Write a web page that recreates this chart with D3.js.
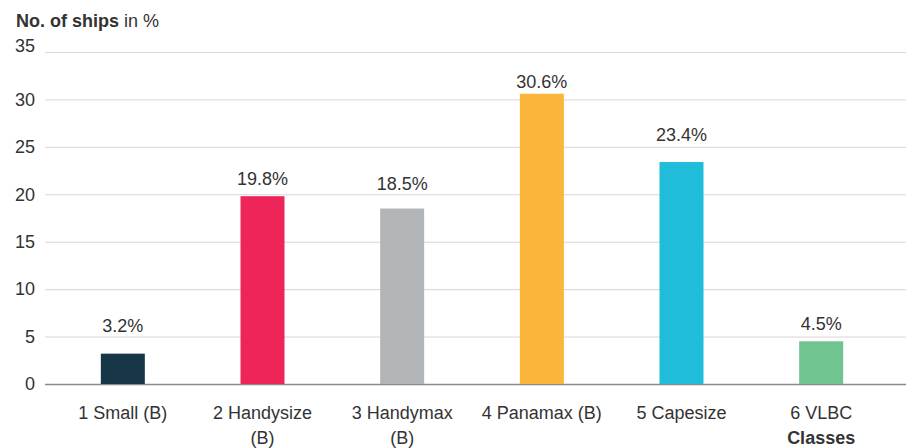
<!DOCTYPE html>
<html>
<head>
<meta charset="utf-8">
<script src="https://cdn.jsdelivr.net/npm/d3@7"></script>
<style>
  body { margin: 0; background: #fff; }
  text { font-family: "Liberation Sans", Arial, Helvetica, sans-serif; fill: #333; }
</style>
</head>
<body>
<svg id="chart" width="906" height="448"></svg>
<script>
// categories (lines of each label) and values
var categories = [["1 Small (B)"], ["2 Handysize", "(B)"], ["3 Handymax", "(B)"], ["4 Panamax (B)"], ["5 Capesize"], ["6 VLBC"]];
var values = [3.2, 19.8, 18.5, 30.6, 23.4, 4.5];
var colors = ["#173648", "#ee2558", "#b1b5b7", "#fbb53b", "#1fbdda", "#6fc490"];
var yTicks = [0, 5, 10, 15, 20, 25, 30, 35];

var svg = d3.select("#chart");
var width = 906, height = 448;
var margin = { top: 52, right: 0, bottom: 64, left: 45 };
// gap between bar top and its value label (px), as placed in the original
var labelGap = [22, 11, 19, 6, 21, 11];

var x = d3.scaleBand()
    .domain(d3.range(categories.length))
    .range([53, 891])
    .paddingInner(0.685)
    .paddingOuter(0.3425);

var y = d3.scaleLinear()
    .domain([0, 35])
    .range([height - margin.bottom, margin.top]);

// gridlines
svg.append("g")
    .selectAll("line")
    .data(yTicks)
    .join("line")
    .attr("x1", margin.left)
    .attr("x2", width)
    .attr("y1", d => y(d) + 0.5)
    .attr("y2", d => y(d) + 0.5)
    .attr("stroke", d => d === 0 ? "#8a8a8a" : "#d6d6d6")
    .attr("stroke-width", d => d === 0 ? 1.5 : 1);

// y tick labels
svg.append("g")
    .selectAll("text")
    .data(yTicks)
    .join("text")
    .attr("x", 35)
    .attr("y", d => y(d) + (d === 35 ? -6 : 0))
    .attr("dy", "0.35em")
    .attr("text-anchor", "end")
    .style("font-size", "18px")
    .text(d => d);

// bars
svg.append("g")
    .selectAll("rect")
    .data(values)
    .join("rect")
    .attr("x", (d, i) => x(i))
    .attr("width", x.bandwidth())
    .attr("y", d => y(d))
    .attr("height", d => y(0) - y(d))
    .attr("fill", (d, i) => colors[i]);

// value labels
svg.append("g")
    .selectAll("text")
    .data(values)
    .join("text")
    .attr("x", (d, i) => x(i) + x.bandwidth() / 2)
    .attr("y", (d, i) => y(d) - labelGap[i])
    .attr("text-anchor", "middle")
    .style("font-size", "18px")
    .text(d => d.toFixed(1) + "%");

// category labels
var cat = svg.append("g")
    .selectAll("text")
    .data(categories)
    .join("text")
    .attr("x", (d, i) => x(i) + x.bandwidth() / 2)
    .attr("y", 419)
    .attr("text-anchor", "middle")
    .style("font-size", "18px");

cat.selectAll("tspan")
    .data(d => d)
    .join("tspan")
    .attr("x", function () { return d3.select(this.parentNode).attr("x"); })
    .attr("dy", (d, i) => i === 0 ? 0 : 25)
    .text(d => d);

// x axis title
svg.append("text")
    .attr("x", x(5) + x.bandwidth() / 2)
    .attr("y", 444)
    .attr("text-anchor", "middle")
    .style("font-size", "18px")
    .style("font-weight", "bold")
    .text("Classes");

// y axis title
var title = svg.append("text")
    .attr("x", 16)
    .attr("y", 27)
    .style("font-size", "18px");
title.append("tspan").style("font-weight", "bold").text("No. of ships");
title.append("tspan").text(" in %");
</script>
</body>
</html>
